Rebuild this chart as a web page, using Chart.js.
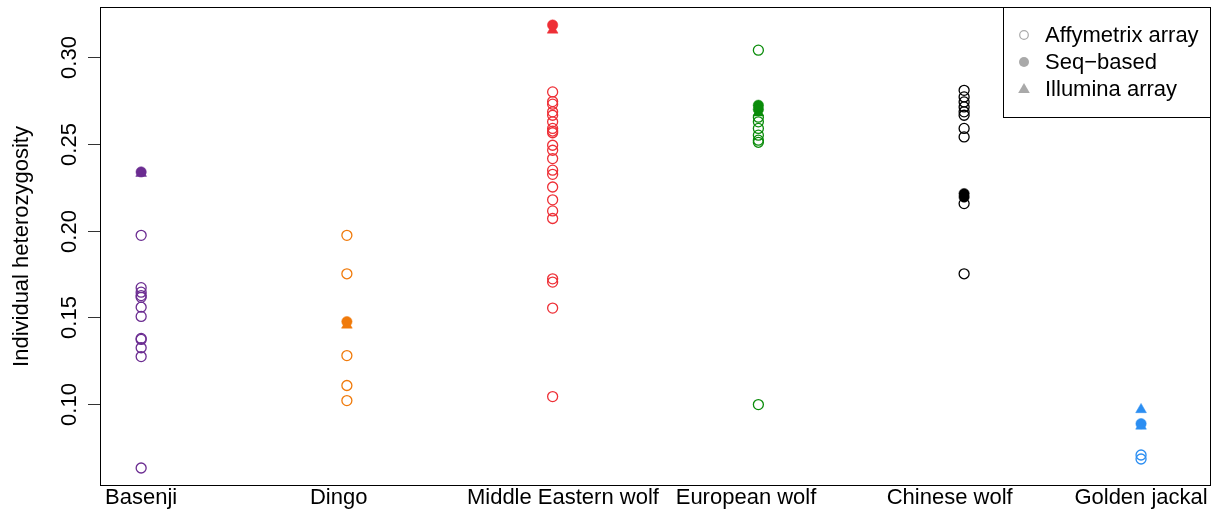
<!DOCTYPE html>
<html>
<head>
<meta charset="utf-8">
<script src="https://cdn.jsdelivr.net/npm/chart.js@4.4.1/dist/chart.umd.min.js"></script>
<style>
  html, body { margin: 0; padding: 0; background: #ffffff; overflow: hidden; }
  #wrap { width: 1212px; height: 512px; position: relative; overflow: hidden; }
  #chart { display: block; }
</style>
</head>
<body>
<div id="wrap"><canvas id="chart"></canvas></div>
<script>
// Groups along the x axis and where each one sits on the linear x scale
const groups = ["Basenji", "Dingo", "Middle Eastern wolf", "European wolf", "Chinese wolf", "Golden jackal"];
const groupX = [1, 2, 3, 4, 5, 5.86];
const labelX = [1.0, 1.96, 3.05, 3.94, 4.93, 5.86];
const groupColors = ["#6b2c91", "#f07a0a", "#ee2f36", "#0a8c0a", "#000000", "#2b8ef2"];

// Individual heterozygosity by genotyping platform
const basenjiAffy = [0.1973, 0.1671, 0.1645, 0.1625, 0.1615, 0.1558, 0.1505, 0.1378, 0.1372, 0.1324, 0.1273, 0.0630];
const basenjiSeq = [0.2339];
const basenjiIllumina = [0.2331];

const dingoAffy = [0.1973, 0.1751, 0.1279, 0.1106, 0.1019];
const dingoSeq = [0.1475];
const dingoIllumina = [0.1455];

const meWolfAffy = [0.2801, 0.2745, 0.2730, 0.2686, 0.2666, 0.2628, 0.2590, 0.2575, 0.2565, 0.2493, 0.2464,
                    0.2416, 0.2349, 0.2325, 0.2252, 0.2178, 0.2114, 0.2070, 0.1722, 0.1703, 0.1553, 0.1042];
const meWolfSeq = [0.3187];
const meWolfIllumina = [0.3158];

const euWolfAffy = [0.3042, 0.2655, 0.2628, 0.2590, 0.2551, 0.2522, 0.2510, 0.0996];
const euWolfSeq = [0.2724, 0.2700];
const euWolfIllumina = [0.2680];

const cnWolfAffy = [0.2810, 0.2772, 0.2743, 0.2714, 0.2686, 0.2666, 0.2590, 0.2541, 0.2156, 0.1751];
const cnWolfSeq = [0.2214, 0.2194];
const cnWolfIllumina = [];

const jackalAffy = [0.0705, 0.0682];
const jackalSeq = [0.0886];
const jackalIllumina = [0.0967, 0.0872];

const affyValues = [basenjiAffy, dingoAffy, meWolfAffy, euWolfAffy, cnWolfAffy, jackalAffy];
const seqValues = [basenjiSeq, dingoSeq, meWolfSeq, euWolfSeq, cnWolfSeq, jackalSeq];
const illuminaValues = [basenjiIllumina, dingoIllumina, meWolfIllumina, euWolfIllumina, cnWolfIllumina, jackalIllumina];

const yTicks = [0.10, 0.15, 0.20, 0.25, 0.30];
const yTitle = "Individual heterozygosity";
const legendLabels = ["Affymetrix array", "Seq\u2212based", "Illumina array"];

const FONT = '"Liberation Sans", Arial, Helvetica, sans-serif';
const FONT_SIZE = 22;

function points(g, vals) {
  return vals.map(v => ({ x: groupX[g], y: v }));
}

const datasets = [];
groups.forEach((name, g) => {
  datasets.push({
    label: name + " (Affymetrix array)",
    data: points(g, affyValues[g]),
    pointStyle: "circle",
    pointRadius: 5,
    pointBorderWidth: 1.3,
    pointBorderColor: groupColors[g],
    pointBackgroundColor: "rgba(0,0,0,0)"
  });
});
groups.forEach((name, g) => {
  datasets.push({
    label: name + " (Seq-based)",
    data: points(g, seqValues[g]),
    pointStyle: "circle",
    pointRadius: 5.2,
    pointBorderWidth: 0.5,
    pointBorderColor: groupColors[g],
    pointBackgroundColor: groupColors[g]
  });
});
groups.forEach((name, g) => {
  datasets.push({
    label: name + " (Illumina array)",
    data: points(g, illuminaValues[g]),
    pointStyle: "triangle",
    pointRadius: 6.2,
    pointBorderWidth: 0.5,
    pointBorderColor: groupColors[g],
    pointBackgroundColor: groupColors[g]
  });
});

// Frame, axis annotations and legend box drawn on top of the plot area
const decorations = {
  id: "decorations",
  afterDraw(chart) {
    const ctx = chart.ctx;
    const area = chart.chartArea;
    const xs = chart.scales.x;
    const ys = chart.scales.y;
    ctx.save();

    // plot frame
    ctx.strokeStyle = "#000";
    ctx.lineWidth = 1;
    ctx.strokeRect(area.left + 0.5, area.top + 0.5, area.right - area.left - 1, area.bottom - area.top - 1);

    // y axis ticks and rotated labels
    ctx.font = FONT_SIZE + "px " + FONT;
    ctx.fillStyle = "#000";
    yTicks.forEach(t => {
      const py = Math.round(ys.getPixelForValue(t)) + 0.5;
      ctx.beginPath();
      ctx.moveTo(area.left - 12, py);
      ctx.lineTo(area.left, py);
      ctx.strokeStyle = "#333";
      ctx.stroke();
      ctx.save();
      ctx.translate(76, py);
      ctx.rotate(-Math.PI / 2);
      ctx.textAlign = "center";
      ctx.textBaseline = "alphabetic";
      ctx.fillText(t.toFixed(2), 0, 0);
      ctx.restore();
    });

    // y axis title
    ctx.save();
    ctx.translate(28, (area.top + area.bottom) / 2);
    ctx.rotate(-Math.PI / 2);
    ctx.textAlign = "center";
    ctx.textBaseline = "alphabetic";
    ctx.fillText(yTitle, 0, 0);
    ctx.restore();

    // group labels under the plot
    ctx.textAlign = "center";
    ctx.textBaseline = "alphabetic";
    groups.forEach((name, g) => {
      ctx.fillText(name, xs.getPixelForValue(labelX[g]), 504);
    });

    // legend
    const lx = 1003.5, ly = 7.5, lw = area.right - 1003.5 - 0.5, lh = 110;
    ctx.fillStyle = "#fff";
    ctx.fillRect(lx, ly, lw, lh);
    ctx.strokeStyle = "#000";
    ctx.lineWidth = 1;
    ctx.strokeRect(lx, ly, lw, lh);
    const symX = 1024;
    const rows = [35, 62, 89];
    const grey = "#a9a9a9";
    // open circle
    ctx.beginPath();
    ctx.arc(symX, rows[0], 4.3, 0, Math.PI * 2);
    ctx.strokeStyle = grey;
    ctx.lineWidth = 1.2;
    ctx.stroke();
    // filled circle
    ctx.beginPath();
    ctx.arc(symX, rows[1], 5, 0, Math.PI * 2);
    ctx.fillStyle = grey;
    ctx.fill();
    // filled triangle
    ctx.beginPath();
    ctx.moveTo(symX, rows[2] - 6);
    ctx.lineTo(symX + 5.8, rows[2] + 4);
    ctx.lineTo(symX - 5.8, rows[2] + 4);
    ctx.closePath();
    ctx.fill();
    ctx.fillStyle = "#000";
    ctx.textAlign = "left";
    ctx.textBaseline = "middle";
    legendLabels.forEach((txt, i) => {
      ctx.fillText(txt, 1045, rows[i] + 1);
    });

    ctx.restore();
  }
};

new Chart(document.getElementById("chart"), {
  type: "scatter",
  data: { datasets },
  options: {
    responsive: true,
    maintainAspectRatio: false,
    animation: false,
    devicePixelRatio: 1,
    layout: { autoPadding: false, padding: { left: 100, top: 7, right: 1, bottom: 26 } },
    clip: false,
    scales: {
      x: { type: "linear", min: 0.8, max: 6.2, display: false },
      y: { type: "linear", min: 0.0526, max: 0.3291, display: false }
    },
    plugins: {
      legend: { display: false },
      tooltip: { enabled: false }
    }
  },
  plugins: [decorations]
});
</script>
</body>
</html>
